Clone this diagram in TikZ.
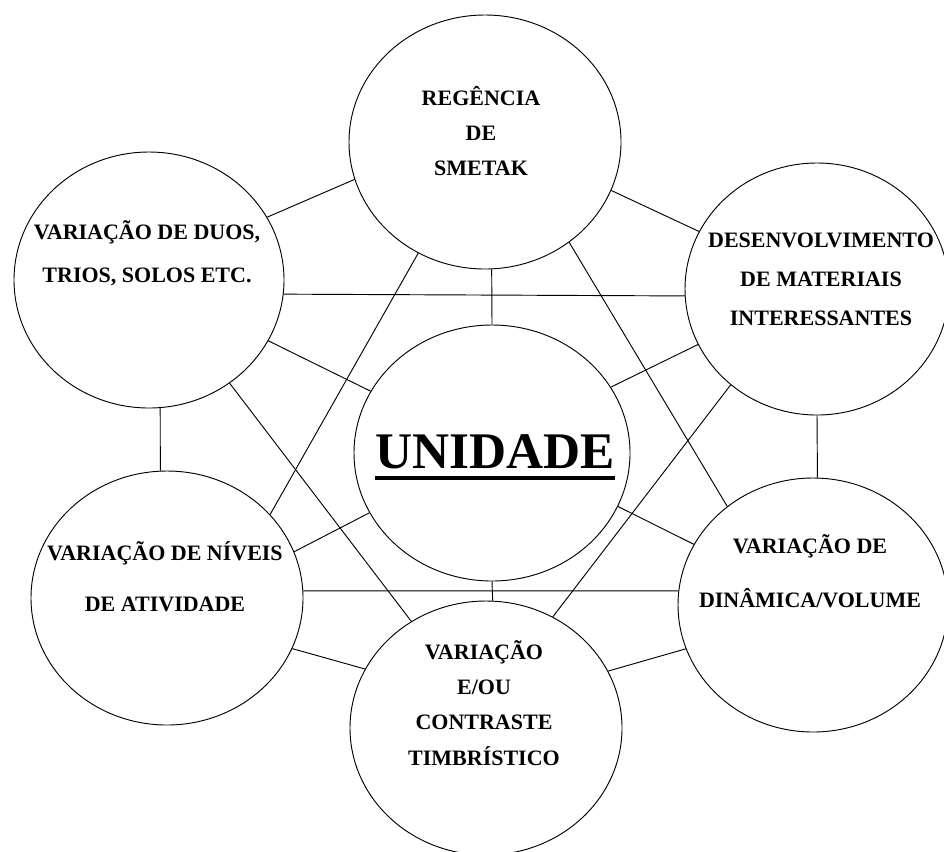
\documentclass[tikz,border=0pt]{standalone}
\usepackage{fontspec}
\setmainfont{Liberation Serif}
\usetikzlibrary{shapes.geometric}
\newcommand\thickul[1]{\setbox0\hbox{#1}\hbox{\copy0\kern-\wd0\raisebox{-9pt}{\rule{\wd0}{3pt}}}}
\begin{document}
\begin{tikzpicture}[x=0.75pt,y=-0.75pt,
  circ/.style={ellipse, draw=black, line width=0.7pt, inner sep=0pt},
  lbl/.style={anchor=base, align=center, inner sep=0pt, font=\bfseries\fontsize{16.5}{#1}\selectfont},
  conn/.style={draw=black, line width=0.7pt}]
\useasboundingbox (0,0) rectangle (944,851);
\fill[white] (0,0) rectangle (944,851);
% circles
\node[circ, minimum width=204pt, minimum height=190.5pt] (T)  at (485,142) {};
\node[circ, minimum width=207pt, minimum height=192pt]   (C)  at (492,453) {};
\node[circ, minimum width=202.5pt, minimum height=192pt] (UL) at (149,280) {};
\node[circ, minimum width=198pt, minimum height=189pt]   (UR) at (817,289) {};
\node[circ, minimum width=204pt, minimum height=190.5pt] (LL) at (167,598) {};
\node[circ, minimum width=202.5pt, minimum height=190.5pt] (LR) at (813,605) {};
\node[circ, minimum width=204pt, minimum height=190.5pt] (B)  at (486,728) {};
% texts (anchor = baseline of the last line)
\node[lbl=26pt] (tT) at (481,175) {REGÊNCIA\\DE\\SMETAK};
\node[lbl=32pt] (tUL) at (147,282) {VARIAÇÃO DE DUOS,\\TRIOS, SOLOS ETC.};
\node[lbl=29pt] (tUR) at (821,325) {DESENVOLVIMENTO\\DE MATERIAIS\\INTERESSANTES};
\node[lbl=38pt] (tLL) at (165,611) {VARIAÇÃO DE NÍVEIS\\DE ATIVIDADE};
\node[lbl=40pt] (tLR) at (810,607) {VARIAÇÃO DE\\DINÂMICA/VOLUME};
\node[lbl=26.5pt] (tB) at (484,765) {VARIAÇÃO\\E/OU\\CONTRASTE\\TIMBRÍSTICO};
\node[anchor=base, inner sep=0pt, font=\bfseries\fontsize{38.5}{40}\selectfont] (tC) at (495,468) {\thickul{UNIDADE}};
% connectors
\draw[conn] (T.196) -- (UL.28);
\draw[conn] (T.339) -- (UR.154);
\draw[conn] (T.273) -- (C.90);
\draw[conn] (UL.354) -- (UR.183);
\draw[conn] (UL.333) -- (C.153);
\draw[conn] (UR.205) -- (C.29);
\draw[conn] (T.239) -- (LL.39);
\draw[conn] (T.310) -- (LR.131);
\draw[conn] (UL.308) -- (B.125);
\draw[conn] (UR.228) -- (B.59);
\draw[conn] (UL.275) -- (LL.93);
\draw[conn] (UR.270) -- (LR.88);
\draw[conn] (LL.20) -- (C.206);
\draw[conn] (LR.153) -- (C.337);
\draw[conn] (LL.3) -- (LR.174);
\draw[conn] (C.270) -- (B.87);
\draw[conn] (LL.338) -- (B.154);
\draw[conn] (LR.199) -- (B.25);
\end{tikzpicture}
\end{document}
